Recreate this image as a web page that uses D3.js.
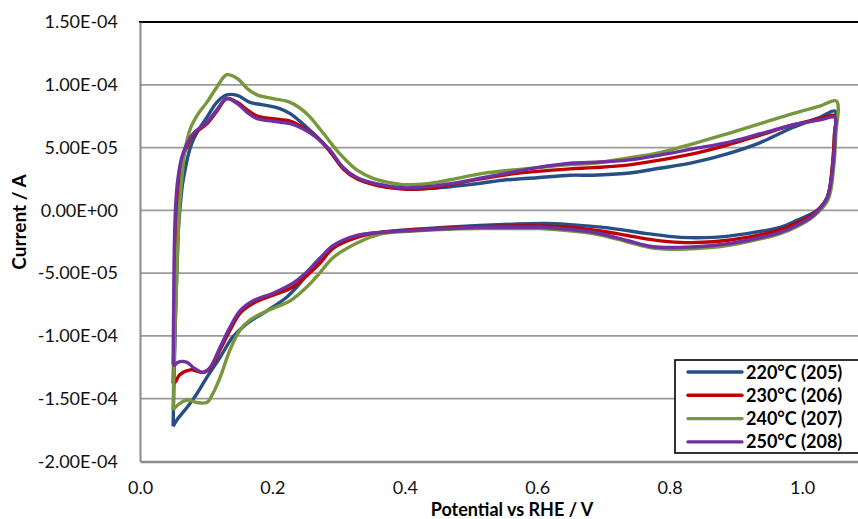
<!DOCTYPE html>
<html>
<head>
<meta charset="utf-8">
<script src="https://cdn.jsdelivr.net/npm/d3@7"></script>
<style>
  body { margin: 0; background: #fff; }
  svg { display: block; font-family: Lato, "Open Sans", sans-serif; }
</style>
</head>
<body>
<div id="chart"></div>
<script>
// Series names and colours
const seriesNames = ['220°C (205)', '230°C (206)', '240°C (207)', '250°C (208)'];
const seriesColors = ['#254f85', '#c00000', '#77973d', '#7030a0'];

// Cyclic voltammograms: [potential V, current A], anodic then cathodic sweep
const cv220 = [
  [0.050,-1.72e-4],[0.052,-1.2e-4],[0.055,-0.6e-4],[0.058,-1.5e-5],[0.061,0.5e-5],[0.064,2.0e-5],
  [0.068,3.2e-5],[0.076,5.0e-5],[0.086,6.2e-5],[0.101,7.4e-5],[0.116,8.6e-5],[0.131,9.2e-5],
  [0.147,9.15e-5],[0.166,8.6e-5],[0.186,8.4e-5],[0.211,8.1e-5],[0.227,7.7e-5],[0.252,6.6e-5],
  [0.276,5.4e-5],[0.307,3.4e-5],[0.328,2.55e-5],[0.358,2.0e-5],[0.397,1.75e-5],[0.438,1.75e-5],
  [0.498,2.05e-5],[0.548,2.4e-5],[0.600,2.6e-5],[0.650,2.8e-5],[0.684,2.8e-5],[0.736,2.95e-5],
  [0.785,3.35e-5],[0.835,3.8e-5],[0.887,4.5e-5],[0.937,5.4e-5],[0.986,6.6e-5],[1.027,7.4e-5],
  [1.050,7.9e-5],
  [1.049,6.0e-5],[1.046,3.5e-5],[1.038,1.0e-5],[1.023,0],[0.992,-0.8e-5],[0.967,-1.35e-5],
  [0.917,-1.85e-5],[0.866,-2.15e-5],[0.816,-2.15e-5],[0.766,-1.85e-5],[0.715,-1.45e-5],
  [0.665,-1.2e-5],[0.615,-1.05e-5],[0.563,-1.1e-5],[0.464,-1.35e-5],[0.363,-1.75e-5],
  [0.330,-2.0e-5],[0.302,-2.6e-5],[0.282,-3.4e-5],[0.261,-4.5e-5],[0.242,-5.8e-5],[0.222,-6.9e-5],
  [0.192,-8.0e-5],[0.162,-9.0e-5],[0.140,-1.01e-4],[0.121,-1.17e-4],[0.101,-1.33e-4],
  [0.086,-1.46e-4],[0.071,-1.57e-4],[0.057,-1.66e-4],[0.050,-1.72e-4]
];
const cv230 = [
  [0.050,-1.38e-4],[0.052,-0.9e-4],[0.054,-0.4e-4],[0.056,-0.5e-5],[0.058,2.0e-5],[0.063,3.9e-5],
  [0.071,5.1e-5],[0.080,6.0e-5],[0.101,6.9e-5],[0.116,7.9e-5],[0.131,8.9e-5],[0.147,8.6e-5],
  [0.162,8.0e-5],[0.177,7.5e-5],[0.201,7.3e-5],[0.227,7.1e-5],[0.246,6.6e-5],[0.267,5.8e-5],
  [0.287,4.7e-5],[0.307,3.3e-5],[0.328,2.5e-5],[0.358,2.0e-5],[0.397,1.7e-5],[0.438,1.75e-5],
  [0.498,2.35e-5],[0.548,2.8e-5],[0.600,3.1e-5],[0.650,3.3e-5],[0.684,3.4e-5],[0.736,3.6e-5],
  [0.785,4.0e-5],[0.835,4.5e-5],[0.887,5.2e-5],[0.937,6.0e-5],[0.986,6.8e-5],[1.027,7.3e-5],
  [1.050,7.55e-5],
  [1.049,6.0e-5],[1.046,3.6e-5],[1.038,1.0e-5],[1.017,-0.3e-5],[0.992,-1.0e-5],[0.967,-1.55e-5],
  [0.917,-2.15e-5],[0.866,-2.5e-5],[0.816,-2.55e-5],[0.775,-2.35e-5],[0.736,-2.0e-5],
  [0.690,-1.6e-5],[0.645,-1.35e-5],[0.604,-1.25e-5],[0.563,-1.25e-5],[0.514,-1.3e-5],
  [0.464,-1.4e-5],[0.412,-1.55e-5],[0.363,-1.75e-5],[0.328,-2.15e-5],[0.292,-3.0e-5],
  [0.272,-4.2e-5],[0.252,-5.2e-5],[0.231,-6.1e-5],[0.201,-6.75e-5],[0.171,-7.4e-5],
  [0.151,-8.2e-5],[0.136,-9.55e-5],[0.121,-1.11e-4],[0.106,-1.26e-4],[0.095,-1.29e-4],
  [0.076,-1.27e-4],[0.060,-1.31e-4],[0.053,-1.37e-4],[0.050,-1.38e-4]
];
const cv240 = [
  [0.050,-1.59e-4],[0.052,-1.1e-4],[0.055,-0.6e-4],[0.058,-1.5e-5],[0.060,0.5e-5],[0.063,2.4e-5],
  [0.068,4.8e-5],[0.076,6.5e-5],[0.088,7.7e-5],[0.101,8.6e-5],[0.116,9.8e-5],[0.131,1.08e-4],
  [0.147,1.05e-4],[0.162,9.7e-5],[0.177,9.2e-5],[0.201,8.9e-5],[0.227,8.6e-5],[0.252,7.7e-5],
  [0.276,6.2e-5],[0.302,4.5e-5],[0.328,3.2e-5],[0.352,2.55e-5],[0.378,2.2e-5],[0.397,2.05e-5],
  [0.438,2.15e-5],[0.479,2.55e-5],[0.518,2.95e-5],[0.559,3.2e-5],[0.600,3.4e-5],[0.650,3.65e-5],
  [0.684,3.75e-5],[0.736,4.15e-5],[0.785,4.6e-5],[0.835,5.3e-5],[0.887,6.1e-5],[0.937,6.9e-5],
  [0.986,7.7e-5],[1.027,8.3e-5],[1.052,8.7e-5],
  [1.051,6.0e-5],[1.048,3.5e-5],[1.039,0.8e-5],[1.017,-0.5e-5],[0.992,-1.3e-5],[0.967,-1.85e-5],
  [0.917,-2.5e-5],[0.866,-2.95e-5],[0.816,-3.1e-5],[0.775,-3.0e-5],[0.736,-2.5e-5],
  [0.690,-1.9e-5],[0.645,-1.6e-5],[0.604,-1.45e-5],[0.563,-1.45e-5],[0.514,-1.45e-5],
  [0.464,-1.5e-5],[0.412,-1.65e-5],[0.363,-1.9e-5],[0.328,-2.6e-5],[0.292,-3.75e-5],
  [0.272,-4.95e-5],[0.252,-6.1e-5],[0.227,-7.2e-5],[0.192,-8.0e-5],[0.166,-8.75e-5],
  [0.151,-9.55e-5],[0.136,-1.11e-4],[0.121,-1.33e-4],[0.110,-1.46e-4],[0.101,-1.53e-4],
  [0.086,-1.53e-4],[0.071,-1.51e-4],[0.057,-1.55e-4],[0.050,-1.59e-4]
];
const cv250 = [
  [0.050,-1.23e-4],[0.051,-0.7e-4],[0.052,-2.5e-5],[0.054,0.5e-5],[0.057,2.4e-5],[0.063,4.2e-5],
  [0.071,5.3e-5],[0.080,6.1e-5],[0.101,7.0e-5],[0.116,8.0e-5],[0.131,8.9e-5],[0.147,8.5e-5],
  [0.162,7.8e-5],[0.177,7.3e-5],[0.201,7.1e-5],[0.227,6.9e-5],[0.246,6.5e-5],[0.267,5.8e-5],
  [0.287,4.8e-5],[0.307,3.4e-5],[0.328,2.6e-5],[0.358,2.1e-5],[0.397,1.8e-5],[0.438,1.9e-5],
  [0.479,2.2e-5],[0.518,2.6e-5],[0.559,3.0e-5],[0.600,3.4e-5],[0.650,3.75e-5],[0.695,3.85e-5],
  [0.736,4.0e-5],[0.785,4.4e-5],[0.835,4.9e-5],[0.887,5.4e-5],[0.937,6.1e-5],
  [0.986,6.8e-5],[1.027,7.2e-5],[1.050,7.4e-5],
  [1.050,6.4e-5],[1.047,3.7e-5],[1.038,1.0e-5],[1.017,-0.4e-5],[0.992,-1.2e-5],[0.967,-1.75e-5],
  [0.917,-2.4e-5],[0.866,-2.8e-5],[0.816,-2.95e-5],[0.775,-2.9e-5],[0.736,-2.4e-5],
  [0.690,-1.8e-5],[0.645,-1.5e-5],[0.604,-1.35e-5],[0.563,-1.35e-5],[0.514,-1.35e-5],
  [0.464,-1.45e-5],[0.412,-1.6e-5],[0.378,-1.7e-5],[0.328,-2.0e-5],[0.292,-2.8e-5],
  [0.272,-3.8e-5],[0.252,-4.9e-5],[0.231,-5.8e-5],[0.201,-6.6e-5],[0.171,-7.2e-5],
  [0.151,-8.0e-5],[0.136,-9.3e-5],[0.121,-1.09e-4],[0.106,-1.25e-4],[0.095,-1.29e-4],
  [0.080,-1.25e-4],[0.071,-1.21e-4],[0.057,-1.21e-4],[0.053,-1.23e-4],[0.050,-1.23e-4]
];
const seriesData = [cv220, cv230, cv240, cv250];

// Axis ticks
const xTicks = [0, 0.2, 0.4, 0.6, 0.8, 1.0];
const yTicks = [1.5e-4, 1.0e-4, 5.0e-5, 0, -5.0e-5, -1.0e-4, -1.5e-4, -2.0e-4];
const yTickLabels = ['1.50E-04', '1.00E-04', '5.00E-05', '0.00E+00', '-5.00E-05', '-1.00E-04', '-1.50E-04', '-2.00E-04'];

const W = 858, H = 519;
const plotLeft = 140, plotTop = 22, plotBottom = 461.5;

const svg = d3.select('#chart').append('svg')
  .attr('width', W)
  .attr('height', H);

svg.append('rect').attr('width', W).attr('height', H).attr('fill', '#fff');

// Scales (plot continues past the right edge of the picture)
const x = d3.scaleLinear().domain([0, 1.2]).range([plotLeft, plotLeft + 662 * 1.2]);
const y = d3.scaleLinear().domain([-2.0e-4, 1.5e-4]).range([plotBottom, plotTop]);

// Gridlines
svg.append('g')
  .selectAll('line')
  .data(yTicks.slice(1, -1))
  .join('line')
  .attr('x1', plotLeft).attr('x2', W)
  .attr('y1', d => y(d)).attr('y2', d => y(d))
  .attr('stroke', '#9a9a9a')
  .attr('stroke-width', 1.8);

// Top border
svg.append('line')
  .attr('x1', plotLeft - 1).attr('x2', W)
  .attr('y1', plotTop).attr('y2', plotTop)
  .attr('stroke', '#000').attr('stroke-width', 2);

// Y axis
const yAxis = svg.append('g')
  .attr('transform', `translate(${plotLeft},0)`)
  .call(d3.axisLeft(y).tickValues(yTicks).tickSize(0).tickPadding(22)
    .tickFormat((d, i) => yTickLabels[i]));
yAxis.select('.domain').attr('stroke', '#8c8c8c').attr('stroke-width', 2);
yAxis.selectAll('text').attr('font-size', 18).attr('fill', '#111')
  .attr('font-family', 'Lato, sans-serif');

// X axis
const xAxis = svg.append('g')
  .attr('transform', `translate(0,${plotBottom})`)
  .call(d3.axisBottom(x).tickValues(xTicks).tickSize(0).tickPadding(20)
    .tickFormat(d3.format('.1f')));
xAxis.select('.domain').attr('stroke', '#8c8c8c').attr('stroke-width', 2.4);
xAxis.selectAll('text').attr('font-size', 18).attr('fill', '#111')
  .attr('font-family', 'Lato, sans-serif');

// Curves
const line = d3.line()
  .x(d => x(d[0]))
  .y(d => y(d[1]))
  .curve(d3.curveCatmullRom.alpha(0.5));

svg.append('g')
  .selectAll('path')
  .data(seriesData)
  .join('path')
  .attr('d', line)
  .attr('fill', 'none')
  .attr('stroke', (d, i) => seriesColors[i])
  .attr('stroke-width', 3.4)
  .attr('stroke-linejoin', 'round');

// Axis titles
svg.append('text')
  .attr('transform', 'translate(26,222) rotate(-90)')
  .attr('text-anchor', 'middle')
  .attr('font-size', 19)
  .attr('font-weight', 'bold')
  .attr('fill', '#000')
  .text('Current / A');

svg.append('text')
  .attr('x', 512)
  .attr('y', 516)
  .attr('text-anchor', 'middle')
  .attr('font-size', 18)
  .attr('font-weight', 'bold')
  .attr('fill', '#000')
  .text('Potential vs RHE / V');

// Legend
const legend = svg.append('g');
legend.append('rect')
  .attr('x', 675).attr('y', 360)
  .attr('width', 200).attr('height', 93)
  .attr('fill', '#fff')
  .attr('stroke', '#000').attr('stroke-width', 1.6);

const items = legend.selectAll('g.item')
  .data(seriesNames)
  .join('g')
  .attr('class', 'item')
  .attr('transform', (d, i) => `translate(0,${372 + i * 23.3})`);
items.append('line')
  .attr('x1', 688).attr('x2', 742)
  .attr('stroke', (d, i) => seriesColors[i])
  .attr('stroke-width', 3.4)
  .attr('stroke-linecap', 'round');
items.append('text')
  .attr('x', 746).attr('y', 6.5)
  .attr('font-size', 18)
  .attr('font-weight', 'bold')
  .attr('fill', '#000')
  .text(d => d);
</script>
</body>
</html>
